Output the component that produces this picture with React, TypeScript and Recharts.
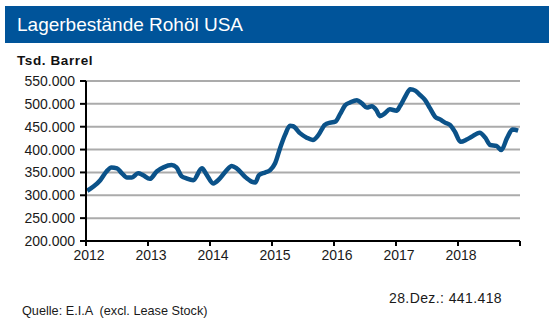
import React from "react";
import { LineChart, Line, XAxis, YAxis, CartesianGrid } from "recharts";

const times = [
  2012.02, 2012.12, 2012.23, 2012.33, 2012.41, 2012.5, 2012.58, 2012.66, 2012.74, 2012.84, 2012.92,
  2013.03, 2013.14, 2013.25, 2013.38, 2013.46, 2013.54, 2013.62, 2013.73, 2013.87, 2013.95,
  2014.05, 2014.16, 2014.27, 2014.35, 2014.43, 2014.56, 2014.67, 2014.73, 2014.79, 2014.89, 2014.97,
  2015.05, 2015.13, 2015.21, 2015.29, 2015.34, 2015.45, 2015.56, 2015.66, 2015.75, 2015.85, 2015.94,
  2016.02, 2016.1, 2016.18, 2016.26, 2016.37, 2016.45, 2016.53, 2016.61, 2016.68, 2016.74, 2016.82, 2016.9,
  2017.01, 2017.06, 2017.15, 2017.23, 2017.31, 2017.39, 2017.47, 2017.55, 2017.63, 2017.71, 2017.79, 2017.87, 2017.95,
  2018.04, 2018.14, 2018.22, 2018.35, 2018.44, 2018.52, 2018.62, 2018.7, 2018.79, 2018.88, 2018.97,
];

const stocks = [
  310000, 319000, 333000, 352000, 361000, 359000, 348000, 339000, 339000, 348000, 344000,
  336000, 352000, 361000, 366000, 361000, 342000, 337000, 333000, 359000, 344000,
  326000, 337000, 355000, 364000, 359000, 341000, 330000, 328000, 344000, 350000, 355000,
  370000, 403000, 432000, 452000, 451000, 436000, 426000, 421000, 432000, 454000, 459000,
  461000, 478000, 497000, 503000, 508000, 501000, 492000, 495000, 487000, 473000, 479000, 488000,
  485000, 494000, 516000, 532000, 529000, 519000, 508000, 490000, 472000, 466000, 459000, 454000, 439000,
  417000, 422000, 428000, 437000, 426000, 410000, 408000, 399000, 425000, 444000, 441418,
];

const xTicks = [2012, 2013, 2014, 2015, 2016, 2017, 2018, 2019];
const xTickLabels = ["2012", "2013", "2014", "2015", "2016", "2017", "2018", ""];
const yTicks = [200000, 250000, 300000, 350000, 400000, 450000, 500000, 550000];

const title = "Lagerbestände Rohöl USA";
const unitLabel = "Tsd. Barrel";
const lastValueLabel = "28.Dez.: 441.418";
const sourceLabel = "Quelle: E.I.A  (excl. Lease Stock)";

const data = times.map((t, i) => ({ t, v: stocks[i] }));

const font = "Arial, 'Liberation Sans', sans-serif";

export default function App() {
  return (
    <div
      style={{
        position: "absolute",
        left: 0,
        top: 0,
        width: 555,
        height: 327,
        background: "#fff",
        fontFamily: font,
        overflow: "hidden",
      }}
    >
      <div
        style={{
          position: "absolute",
          left: 5,
          top: 6,
          width: 544,
          height: 37,
          background: "#00549a",
          color: "#fff",
          fontSize: 19,
          lineHeight: "38px",
          paddingLeft: 12,
          boxSizing: "border-box",
        }}
      >
        {title}
      </div>
      <div
        style={{
          position: "absolute",
          left: 17,
          top: 53,
          fontSize: 13.5,
          fontWeight: "bold",
          color: "#111",
          letterSpacing: 0.6,
        }}
      >
        {unitLabel}
      </div>
      <div style={{ position: "absolute", left: 0, top: 0 }}>
        <LineChart
          width={555}
          height={327}
          data={data}
          margin={{ top: 81, right: 35, bottom: 56, left: 16 }}
        >
          <CartesianGrid
            horizontal={true}
            vertical={false}
            stroke="#ababab"
            strokeWidth={2}
          />
          <XAxis
            dataKey="t"
            type="number"
            domain={[2012, 2019]}
            ticks={xTicks}
            tickFormatter={(v: number) => xTickLabels[xTicks.indexOf(v)] ?? ""}
            interval={0}
            height={30}
            axisLine={{ stroke: "#000", strokeWidth: 2 }}
            tickLine={{ stroke: "#000", strokeWidth: 2 }}
            tickSize={5}
            tick={{ fill: "#1a1a1a", fontSize: 14, fontFamily: font, dx: 3 }}
            tickMargin={4}
          />
          <YAxis
            type="number"
            domain={[200000, 550000]}
            ticks={yTicks}
            tickFormatter={(v: number) => (v / 1000).toFixed(3)}
            interval={0}
            width={70}
            axisLine={{ stroke: "#000", strokeWidth: 2 }}
            tickLine={{ stroke: "#000", strokeWidth: 2 }}
            tickSize={6}
            tickMargin={5}
            tick={{ fill: "#1a1a1a", fontSize: 14, fontFamily: font }}
          />
          <Line
            type="monotone"
            dataKey="v"
            stroke="#0b5289"
            strokeWidth={4.5}
            dot={false}
            isAnimationActive={false}
          />
        </LineChart>
      </div>
      <div
        style={{
          position: "absolute",
          left: 389,
          top: 290,
          fontSize: 14,
          letterSpacing: 0.4,
          color: "#1a1a1a",
        }}
      >
        {lastValueLabel}
      </div>
      <div
        style={{
          position: "absolute",
          left: 22,
          top: 304,
          fontSize: 12.7,
          color: "#1a1a1a",
          whiteSpace: "pre",
        }}
      >
        {sourceLabel}
      </div>
    </div>
  );
}
